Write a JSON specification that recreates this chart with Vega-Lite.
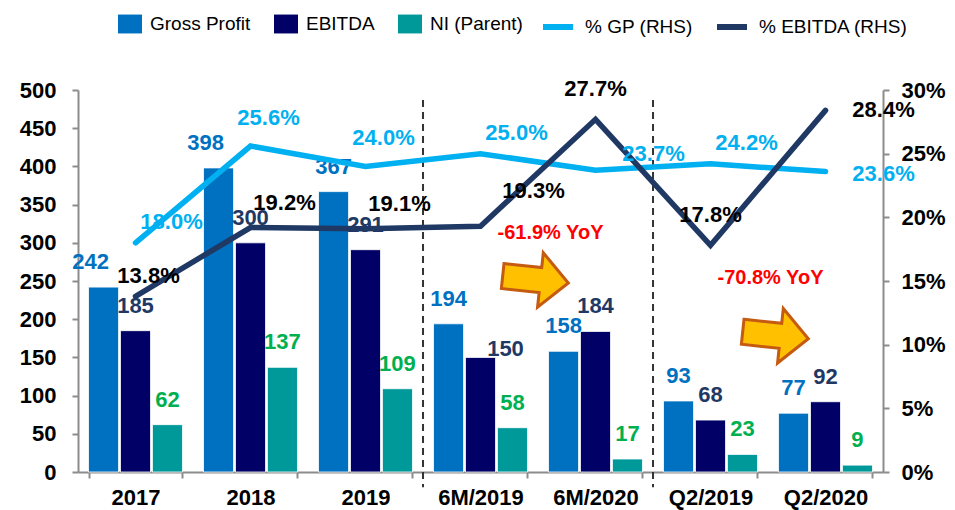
{
  "$schema": "https://vega.github.io/schema/vega-lite/v6.json",
  "width": 805,
  "height": 382,
  "autosize": "none",
  "padding": {"left": 78, "top": 90, "right": 72, "bottom": 38},
  "background": "white",
  "config": {
    "view": {"stroke": null},
    "font": "Liberation Sans",
    "axis": {
      "labelFont": "Liberation Sans",
      "labelFontSize": 22,
      "labelFontWeight": "bold",
      "labelColor": "black",
      "tickColor": "#8c8c8c",
      "tickWidth": 2,
      "tickSize": 6,
      "domainColor": "#8c8c8c",
      "domainWidth": 2,
      "grid": false
    },
    "legend": {
      "labelFont": "Liberation Sans",
      "labelFontSize": 19,
      "labelColor": "black",
      "symbolOpacity": 1
    },
    "text": {"font": "Liberation Sans", "fontWeight": "bold", "fontSize": 22, "baseline": "middle", "align": "center"}
  },
  "datasets": {
    "bars": [
      {"cat": "2017", "series": "Gross Profit", "value": 242},
      {"cat": "2017", "series": "EBITDA", "value": 185},
      {"cat": "2017", "series": "NI (Parent)", "value": 62},
      {"cat": "2018", "series": "Gross Profit", "value": 398},
      {"cat": "2018", "series": "EBITDA", "value": 300},
      {"cat": "2018", "series": "NI (Parent)", "value": 137},
      {"cat": "2019", "series": "Gross Profit", "value": 367},
      {"cat": "2019", "series": "EBITDA", "value": 291},
      {"cat": "2019", "series": "NI (Parent)", "value": 109},
      {"cat": "6M/2019", "series": "Gross Profit", "value": 194},
      {"cat": "6M/2019", "series": "EBITDA", "value": 150},
      {"cat": "6M/2019", "series": "NI (Parent)", "value": 58},
      {"cat": "6M/2020", "series": "Gross Profit", "value": 158},
      {"cat": "6M/2020", "series": "EBITDA", "value": 184},
      {"cat": "6M/2020", "series": "NI (Parent)", "value": 17},
      {"cat": "Q2/2019", "series": "Gross Profit", "value": 93},
      {"cat": "Q2/2019", "series": "EBITDA", "value": 68},
      {"cat": "Q2/2019", "series": "NI (Parent)", "value": 23},
      {"cat": "Q2/2020", "series": "Gross Profit", "value": 77},
      {"cat": "Q2/2020", "series": "EBITDA", "value": 92},
      {"cat": "Q2/2020", "series": "NI (Parent)", "value": 9}
    ],
    "pcts": [
      {"cat": "2017", "series": "% GP (RHS)", "pct": 0.180},
      {"cat": "2018", "series": "% GP (RHS)", "pct": 0.256},
      {"cat": "2019", "series": "% GP (RHS)", "pct": 0.240},
      {"cat": "6M/2019", "series": "% GP (RHS)", "pct": 0.250},
      {"cat": "6M/2020", "series": "% GP (RHS)", "pct": 0.237},
      {"cat": "Q2/2019", "series": "% GP (RHS)", "pct": 0.242},
      {"cat": "Q2/2020", "series": "% GP (RHS)", "pct": 0.236},
      {"cat": "2017", "series": "% EBITDA (RHS)", "pct": 0.138},
      {"cat": "2018", "series": "% EBITDA (RHS)", "pct": 0.192},
      {"cat": "2019", "series": "% EBITDA (RHS)", "pct": 0.191},
      {"cat": "6M/2019", "series": "% EBITDA (RHS)", "pct": 0.193},
      {"cat": "6M/2020", "series": "% EBITDA (RHS)", "pct": 0.277},
      {"cat": "Q2/2019", "series": "% EBITDA (RHS)", "pct": 0.178},
      {"cat": "Q2/2020", "series": "% EBITDA (RHS)", "pct": 0.284}
    ],
    "separators": [
      {"cat": "6M/2019"},
      {"cat": "Q2/2019"}
    ]
  },
  "encoding": {
    "x": {
      "field": "cat",
      "type": "nominal",
      "sort": ["2017", "2018", "2019", "6M/2019", "6M/2020", "Q2/2019", "Q2/2020"],
      "scale": {"paddingInner": 0.183, "paddingOuter": 0.0915},
      "axis": {"title": null, "labelAngle": 0, "labelPadding": 9, "tickBand": "extent"}
    }
  },
  "layer": [
    {
      "data": {"name": "bars"},
      "layer": [
        {
          "mark": {"type": "bar", "stroke": "white", "strokeWidth": 0.8},
          "encoding": {
            "xOffset": {"field": "series", "type": "nominal", "sort": ["Gross Profit", "EBITDA", "NI (Parent)"], "scale": {"paddingInner": 0.06}},
            "y": {
              "field": "value",
              "type": "quantitative",
              "scale": {"domain": [0, 500], "nice": false},
              "axis": {"title": null, "values": [0, 50, 100, 150, 200, 250, 300, 350, 400, 450, 500], "labelPadding": 16}
            },
            "color": {
              "field": "series",
              "type": "nominal",
              "scale": {
                "domain": ["Gross Profit", "EBITDA", "NI (Parent)"],
                "range": ["#0070C0", "#000066", "#009999"]
              },
              "legend": {
                "title": null,
                "orient": "none",
                "direction": "horizontal",
                "legendX": 37,
                "legendY": -81,
                "labelOffset": 5,
                "columnPadding": 20,
                "symbolSize": 900,
                "symbolStrokeWidth": 0,
                "symbolType": "M -0.8 -0.63 L 0.8 -0.63 L 0.8 0.63 L -0.8 0.63 Z"
              }
            }
          }
        },
        {
          "transform": [{"filter": "datum.value !== 150 && datum.value !== 242 && datum.value !== 398"}],
          "mark": {"type": "text", "dy": -25},
          "encoding": {
            "xOffset": {"field": "series", "type": "nominal", "sort": ["Gross Profit", "EBITDA", "NI (Parent)"]},
            "y": {"field": "value", "type": "quantitative", "scale": {"domain": [0, 500], "nice": false}, "axis": {"title": null, "values": [0, 50, 100, 150, 200, 250, 300, 350, 400, 450, 500], "labelPadding": 16}},
            "text": {"field": "value", "type": "quantitative"},
            "color": {
              "condition": [
                {"test": "datum.series === 'Gross Profit'", "value": "#0070C0"},
                {"test": "datum.series === 'EBITDA'", "value": "#1F3864"}
              ],
              "value": "#00B050"
            }
          }
        },
        {
          "transform": [{"filter": "datum.value === 242 || datum.value === 398"}],
          "mark": {"type": "text", "dy": -25, "dx": -13, "color": "#0070C0"},
          "encoding": {
            "xOffset": {"field": "series", "type": "nominal", "sort": ["Gross Profit", "EBITDA", "NI (Parent)"]},
            "y": {"field": "value", "type": "quantitative", "scale": {"domain": [0, 500], "nice": false}, "axis": {"title": null, "values": [0, 50, 100, 150, 200, 250, 300, 350, 400, 450, 500], "labelPadding": 16}},
            "text": {"field": "value", "type": "quantitative"}
          }
        },
        {
          "transform": [{"filter": "datum.value === 150"}],
          "mark": {"type": "text", "dy": -8, "dx": 25, "color": "#1F3864"},
          "encoding": {
            "xOffset": {"field": "series", "type": "nominal", "sort": ["Gross Profit", "EBITDA", "NI (Parent)"]},
            "y": {"field": "value", "type": "quantitative", "scale": {"domain": [0, 500], "nice": false}, "axis": {"title": null, "values": [0, 50, 100, 150, 200, 250, 300, 350, 400, 450, 500], "labelPadding": 16}},
            "text": {"field": "value", "type": "quantitative"}
          }
        },
        {
          "data": {"name": "separators"},
          "mark": {"type": "rule", "strokeDash": [7, 5], "strokeWidth": 2, "color": "#333333", "xOffset": -10.5},
          "encoding": {
            "x": {"field": "cat", "type": "nominal", "bandPosition": 0},
            "y": {"datum": 487, "type": "quantitative", "axis": {"title": null, "values": [0, 50, 100, 150, 200, 250, 300, 350, 400, 450, 500], "labelPadding": 16}},
            "y2": {"datum": -20}
          }
        },
        {
          "data": {"values": [{}]},
          "mark": {"type": "point", "shape": "M -1 -0.38 L 0.15 -0.38 L 0.15 -0.83 L 1 0 L 0.15 0.83 L 0.15 0.38 L -1 0.38 Z", "size": 4356, "angle": 6, "filled": true, "fill": "#FFC000", "stroke": "#C55A11", "strokeWidth": 3, "opacity": 1, "xOffset": 55},
          "encoding": {
            "x": {"datum": "6M/2019", "type": "nominal"},
            "y": {"datum": 252, "type": "quantitative", "axis": {"title": null, "values": [0, 50, 100, 150, 200, 250, 300, 350, 400, 450, 500], "labelPadding": 16}}
          }
        },
        {
          "data": {"values": [{}]},
          "mark": {"type": "point", "shape": "M -1 -0.38 L 0.15 -0.38 L 0.15 -0.83 L 1 0 L 0.15 0.83 L 0.15 0.38 L -1 0.38 Z", "size": 4356, "angle": 6, "filled": true, "fill": "#FFC000", "stroke": "#C55A11", "strokeWidth": 3, "opacity": 1, "xOffset": -50},
          "encoding": {
            "x": {"datum": "Q2/2020", "type": "nominal"},
            "y": {"datum": 179, "type": "quantitative", "axis": {"title": null, "values": [0, 50, 100, 150, 200, 250, 300, 350, 400, 450, 500], "labelPadding": 16}}
          }
        },
        {
          "data": {"values": [{"label": "-61.9% YoY"}]},
          "mark": {"type": "text", "fontSize": 20, "color": "#FF0000", "dx": -45},
          "encoding": {
            "x": {"datum": "6M/2020", "type": "nominal"},
            "y": {"datum": 313, "type": "quantitative", "axis": {"title": null, "values": [0, 50, 100, 150, 200, 250, 300, 350, 400, 450, 500], "labelPadding": 16}},
            "text": {"field": "label"}
          }
        },
        {
          "data": {"values": [{"label": "-70.8% YoY"}]},
          "mark": {"type": "text", "fontSize": 20, "color": "#FF0000", "dx": -55},
          "encoding": {
            "x": {"datum": "Q2/2020", "type": "nominal"},
            "y": {"datum": 254, "type": "quantitative", "axis": {"title": null, "values": [0, 50, 100, 150, 200, 250, 300, 350, 400, 450, 500], "labelPadding": 16}},
            "text": {"field": "label"}
          }
        }
      ]
    },
    {
      "data": {"name": "pcts"},
      "encoding": {
        "y": {
          "field": "pct",
          "type": "quantitative",
          "scale": {"domain": [0, 0.3], "nice": false},
          "axis": {"title": null, "orient": "right", "format": ".0%", "values": [0, 0.05, 0.1, 0.15, 0.2, 0.25, 0.3], "labelPadding": 12}
        }
      },
      "layer": [
        {
          "mark": {"type": "line", "strokeWidth": 5.5, "strokeJoin": "miter", "strokeCap": "round"},
          "encoding": {
            "stroke": {
              "field": "series",
              "type": "nominal",
              "scale": {"domain": ["% GP (RHS)", "% EBITDA (RHS)"], "range": ["#00B0F0", "#1F3864"]},
              "legend": {
                "title": null,
                "orient": "none",
                "direction": "horizontal",
                "legendX": 462,
                "legendY": -81,
                "labelOffset": 9,
                "columnPadding": 12,
                "symbolSize": 900,
                "symbolType": "stroke",
                "symbolStrokeWidth": 6
              }
            }
          }
        },
        {
          "transform": [{"filter": "datum.series === '% GP (RHS)' && (datum.cat === '2017' || datum.cat === '6M/2019' || datum.cat === 'Q2/2019')"}],
          "mark": {"type": "text", "dx": 36, "dy": -21, "color": "#00B0F0"},
          "encoding": {"text": {"field": "pct", "type": "quantitative", "format": ".1%"}}
        },
        {
          "transform": [{"filter": "datum.series === '% GP (RHS)' && (datum.cat === '2018' || datum.cat === '2019')"}],
          "mark": {"type": "text", "dx": 18, "dy": -28, "color": "#00B0F0"},
          "encoding": {"text": {"field": "pct", "type": "quantitative", "format": ".1%"}}
        },
        {
          "transform": [{"filter": "datum.series === '% GP (RHS)' && datum.cat === '6M/2020'"}],
          "mark": {"type": "text", "dx": 58, "dy": -16, "color": "#00B0F0"},
          "encoding": {"text": {"field": "pct", "type": "quantitative", "format": ".1%"}}
        },
        {
          "transform": [{"filter": "datum.series === '% GP (RHS)' && datum.cat === 'Q2/2020'"}],
          "mark": {"type": "text", "dx": 58, "dy": 3, "color": "#00B0F0"},
          "encoding": {"text": {"field": "pct", "type": "quantitative", "format": ".1%"}}
        },
        {
          "transform": [{"filter": "datum.series === '% EBITDA (RHS)' && datum.cat === '2017'"}],
          "mark": {"type": "text", "dx": 13, "dy": -20, "color": "black"},
          "encoding": {"text": {"field": "pct", "type": "quantitative", "format": ".1%"}}
        },
        {
          "transform": [{"filter": "datum.series === '% EBITDA (RHS)' && (datum.cat === '2018' || datum.cat === '2019')"}],
          "mark": {"type": "text", "dx": 34, "dy": -25, "color": "black"},
          "encoding": {"text": {"field": "pct", "type": "quantitative", "format": ".1%"}}
        },
        {
          "transform": [{"filter": "datum.series === '% EBITDA (RHS)' && datum.cat === '6M/2019'"}],
          "mark": {"type": "text", "dx": 53, "dy": -35, "color": "black"},
          "encoding": {"text": {"field": "pct", "type": "quantitative", "format": ".1%"}}
        },
        {
          "transform": [{"filter": "datum.series === '% EBITDA (RHS)' && (datum.cat === '6M/2020' || datum.cat === 'Q2/2019')"}],
          "mark": {"type": "text", "dx": 0, "dy": -30, "color": "black"},
          "encoding": {"text": {"field": "pct", "type": "quantitative", "format": ".1%"}}
        },
        {
          "transform": [{"filter": "datum.series === '% EBITDA (RHS)' && datum.cat === 'Q2/2020'"}],
          "mark": {"type": "text", "dx": 58, "dy": 0, "color": "black"},
          "encoding": {"text": {"field": "pct", "type": "quantitative", "format": ".1%"}}
        }
      ]
    }
  ],
  "resolve": {"scale": {"y": "independent"}}
}
